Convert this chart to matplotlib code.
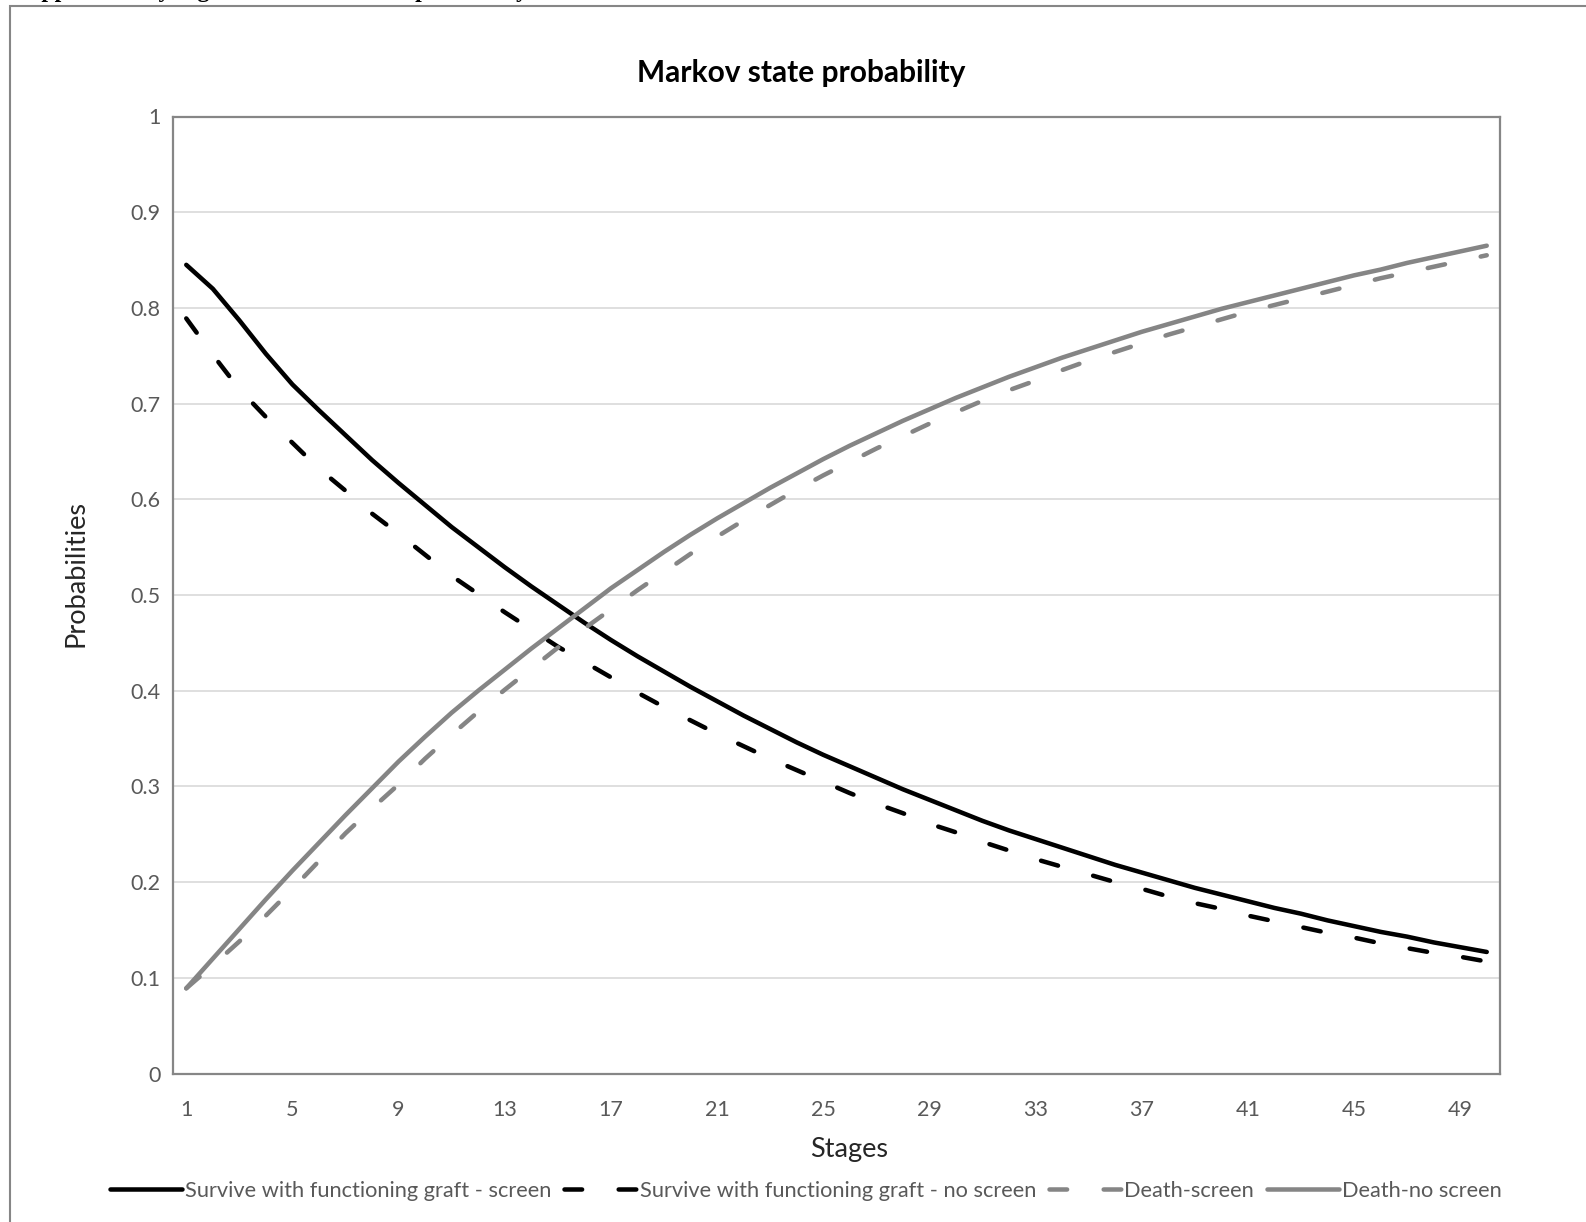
import matplotlib
matplotlib.use("Agg")
import matplotlib.pyplot as plt
from matplotlib.patches import Rectangle
from matplotlib.lines import Line2D

# stages 1..50 (category axis)
stages = list(range(1, 51))
tick_stages = [1, 5, 9, 13, 17, 21, 25, 29, 33, 37, 41, 45, 49]

surv_screen = [0.845, 0.820, 0.787, 0.752, 0.720, 0.693, 0.667, 0.641, 0.617, 0.594,
               0.571, 0.550, 0.529, 0.509, 0.490, 0.471, 0.453, 0.436, 0.420, 0.404,
               0.389, 0.374, 0.360, 0.346, 0.333, 0.321, 0.309, 0.297, 0.286, 0.275,
               0.264, 0.254, 0.245, 0.236, 0.227, 0.218, 0.210, 0.202, 0.194, 0.187,
               0.180, 0.173, 0.167, 0.160, 0.154, 0.148, 0.143, 0.137, 0.132, 0.127]

surv_noscreen = [0.789, 0.751, 0.715, 0.686, 0.659, 0.632, 0.609, 0.585, 0.564, 0.542,
                 0.520, 0.501, 0.482, 0.464, 0.446, 0.430, 0.414, 0.398, 0.383, 0.369,
                 0.355, 0.342, 0.329, 0.317, 0.305, 0.293, 0.282, 0.272, 0.261, 0.252,
                 0.242, 0.233, 0.224, 0.216, 0.208, 0.200, 0.193, 0.185, 0.178, 0.172,
                 0.165, 0.159, 0.153, 0.147, 0.142, 0.136, 0.131, 0.126, 0.122, 0.117]

death_screen = [0.089, 0.113, 0.138, 0.165, 0.193, 0.222, 0.251, 0.277, 0.302, 0.329,
                0.354, 0.378, 0.401, 0.423, 0.445, 0.465, 0.485, 0.505, 0.524, 0.543,
                0.561, 0.578, 0.594, 0.610, 0.625, 0.639, 0.653, 0.666, 0.679, 0.691,
                0.703, 0.714, 0.724, 0.735, 0.745, 0.754, 0.763, 0.772, 0.780, 0.788,
                0.796, 0.803, 0.810, 0.817, 0.824, 0.831, 0.837, 0.843, 0.849, 0.855]

death_noscreen = [0.089, 0.120, 0.151, 0.182, 0.212, 0.241, 0.270, 0.298, 0.326, 0.352,
                  0.377, 0.400, 0.422, 0.444, 0.465, 0.486, 0.507, 0.526, 0.545, 0.563,
                  0.580, 0.596, 0.612, 0.627, 0.642, 0.656, 0.669, 0.682, 0.694, 0.706,
                  0.717, 0.728, 0.738, 0.748, 0.757, 0.766, 0.775, 0.783, 0.791, 0.799,
                  0.806, 0.813, 0.820, 0.827, 0.834, 0.840, 0.847, 0.853, 0.859, 0.865]

labels = ["Survive with functioning graft - screen",
          "Survive with functioning graft - no screen",
          "Death-screen",
          "Death-no screen"]

plt.rcParams['font.family'] = ['Lato', 'DejaVu Sans']

W, H = 1586, 1222
fig = plt.figure(figsize=(W / 100, H / 100), dpi=100)

# outer chart frame (cut off at right and bottom)
fig.patches.append(Rectangle((10 / W, -0.1), 1.2, 1 - 6 / H + 0.1, transform=fig.transFigure,
                             fill=False, ec='#868686', lw=1.5))

# header line, only its lowest part shows above the frame
fig.text(15 / W, 1 + 3 / H, "Supplementary Figure 1: Markov state probability",
         family='Liberation Serif', fontweight='bold', fontsize=17, va='baseline', ha='left')

ax = fig.add_axes([173 / W, 1 - 1073.5 / H, (1500 - 173) / W, (1073.5 - 116.5) / H])

lw = 3.25
dash = (0, (3.9, 8.1))
black = 'black'
grey = '#858585'

ax.plot(stages, surv_screen, color=black, lw=lw, solid_capstyle='round', solid_joinstyle='round')
ax.plot(stages, surv_noscreen, color=black, lw=lw, linestyle=dash, dash_capstyle='round')
ax.plot(stages, death_screen, color=grey, lw=lw, linestyle=dash, dash_capstyle='round')
ax.plot(stages, death_noscreen, color=grey, lw=lw, solid_capstyle='round', solid_joinstyle='round')

ax.set_xlim(0.5, 50.5)
ax.set_ylim(0, 1)
ax.set_yticks([i / 10 for i in range(11)])
ax.set_yticklabels(['0', '0.1', '0.2', '0.3', '0.4', '0.5', '0.6', '0.7', '0.8', '0.9', '1'])
ax.set_xticks(tick_stages)
ax.set_xticklabels([str(s) for s in tick_stages])
ax.tick_params(axis='both', length=0, labelsize=15.5, labelcolor='#595959')
ax.tick_params(axis='y', pad=9)
ax.tick_params(axis='x', pad=19)
ax.grid(axis='y', color='#d9d9d9', lw=1.2)
ax.set_axisbelow(True)
for sp in ax.spines.values():
    sp.set_color('#868686')
    sp.set_linewidth(1.6)

fig.text(801 / W, 1 - 73 / H, "Markov state probability", ha='center', va='center',
         fontsize=21.5, fontweight='bold', color='black')
fig.text(849 / W, 1 - 1150 / H, "Stages", ha='center', va='center', fontsize=19.5, color='#262626')
fig.text(76 / W, 1 - 573 / H, "Probabilities", ha='center', va='center', rotation=90,
         fontsize=19.5, color='#262626')

handles = [Line2D([], [], color=black, lw=lw, solid_capstyle='round'),
           Line2D([], [], color=black, lw=lw, linestyle=dash, dash_capstyle='round'),
           Line2D([], [], color=grey, lw=lw, linestyle=dash, dash_capstyle='round'),
           Line2D([], [], color=grey, lw=lw, solid_capstyle='round')]
fig.legend(handles, labels, loc='center', bbox_to_anchor=(806 / W, 1 - 1191 / H), ncol=4,
           frameon=False, fontsize=15.7, labelcolor='#595959', handlelength=3.3,
           handletextpad=0.15, columnspacing=0.6)

fig.savefig("out.png", dpi=100)
